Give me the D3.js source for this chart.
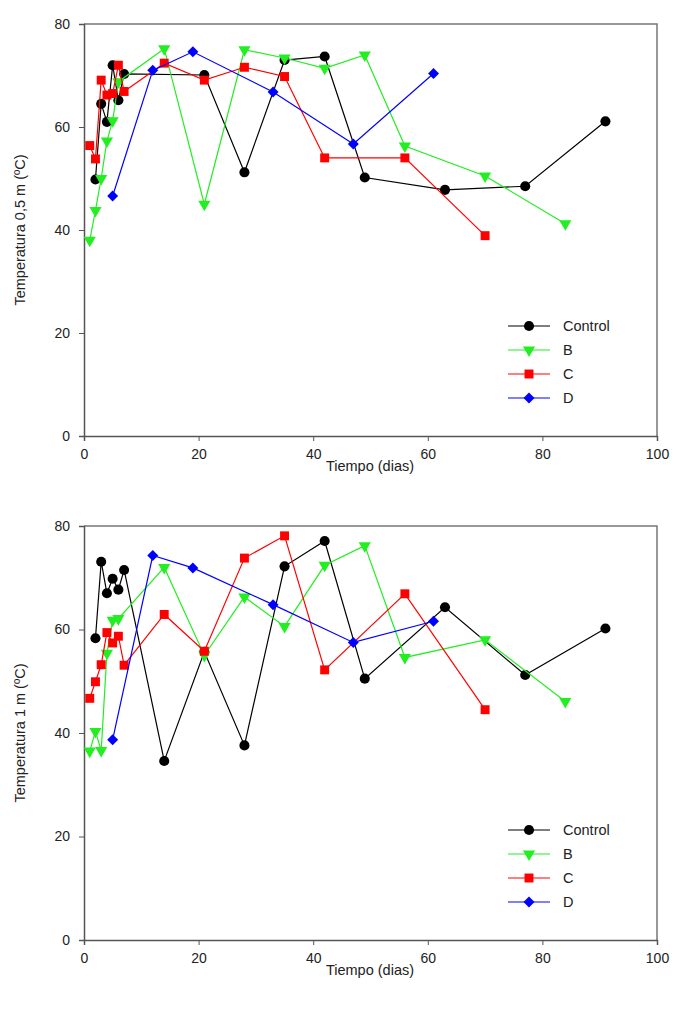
<!DOCTYPE html>
<html>
<head>
<meta charset="utf-8">
<script src="https://cdn.jsdelivr.net/npm/d3@7/dist/d3.min.js"></script>
<style>
  html, body { margin: 0; padding: 0; background: #fff; }
  svg text { font-family: "Liberation Sans", Arial, sans-serif; fill: #222; }
</style>
</head>
<body>
<svg id="chart" width="680" height="1019"></svg>
<script>
// ---- Data: temperature at 0.5 m ----
const top_control_days = [2, 3, 4, 5, 6, 7, 21, 28, 35, 42, 49, 63, 77, 91];
const top_control_vals = [49.8, 64.5, 61, 72, 65.2, 70.3, 70.1, 51.2, 73, 73.7, 50.2, 47.8, 48.5, 61.1];
const top_b_days = [1, 2, 3, 4, 5, 6, 14, 21, 28, 35, 42, 49, 56, 70, 84];
const top_b_vals = [38, 43.8, 50, 57.3, 61.2, 68.8, 75.2, 45, 75, 73.4, 71.4, 74, 56.3, 50.5, 41.2];
const top_c_days = [1, 2, 3, 4, 5, 6, 7, 14, 21, 28, 35, 42, 56, 70];
const top_c_vals = [56.4, 53.8, 69.1, 66.2, 66.5, 72, 66.9, 72.4, 69.1, 71.6, 69.8, 54, 54, 38.9];
const top_d_days = [5, 12, 19, 33, 47, 61];
const top_d_vals = [46.6, 71, 74.6, 66.8, 56.7, 70.4];

// ---- Data: temperature at 1 m ----
const bot_control_days = [2, 3, 4, 5, 6, 7, 14, 21, 28, 35, 42, 49, 63, 77, 91];
const bot_control_vals = [58.3, 73.1, 67, 69.8, 67.7, 71.5, 34.6, 55.7, 37.6, 72.2, 77.1, 50.5, 64.3, 51.2, 60.2];
const bot_b_days = [1, 2, 3, 4, 5, 6, 14, 21, 28, 35, 42, 49, 56, 70, 84];
const bot_b_vals = [36.5, 40.3, 36.6, 55.4, 61.8, 62.1, 72, 55, 66.3, 60.6, 72.4, 76.2, 54.6, 58, 46.1];
const bot_c_days = [1, 2, 3, 4, 5, 6, 7, 14, 21, 28, 35, 42, 56, 70];
const bot_c_vals = [46.7, 49.9, 53.2, 59.4, 57.4, 58.7, 53.1, 62.9, 55.8, 73.8, 78.1, 52.2, 66.9, 44.5];
const bot_d_days = [5, 12, 19, 33, 47, 61];
const bot_d_vals = [38.7, 74.3, 71.9, 64.8, 57.5, 61.6];

const seriesNames = ["Control", "B", "C", "D"];
const seriesColors = ["#000000", "#22ee22", "#ff0000", "#0000ff"];

const xTicks = [0, 20, 40, 60, 80, 100];
const yTicks = [0, 20, 40, 60, 80];
const xTitle = "Tiempo (dias)";
const yTitles = ["Temperatura 0,5 m (ºC)", "Temperatura 1 m (ºC)"];

const svg = d3.select("#chart");

function zip(days, vals) { return days.map((d, i) => ({ d, v: vals[i] })); }

const panels = [
  { top: 24, bottom: 436, title: yTitles[0], legendY: 326,
    series: [zip(top_control_days, top_control_vals), zip(top_b_days, top_b_vals),
             zip(top_c_days, top_c_vals), zip(top_d_days, top_d_vals)] },
  { top: 526, bottom: 940, title: yTitles[1], legendY: 830,
    series: [zip(bot_control_days, bot_control_vals), zip(bot_b_days, bot_b_vals),
             zip(bot_c_days, bot_c_vals), zip(bot_d_days, bot_d_vals)] }
];

const left = 84, right = 657;

// marker shape and orientation per series: circle, down-triangle, square, diamond
const markerShapes = [
  { type: d3.symbolCircle, size: 80, rot: 0 },
  { type: d3.symbolTriangle, size: 64, rot: 180 },
  { type: d3.symbolSquare, size: 80, rot: 0 },
  { type: d3.symbolSquare, size: 60, rot: 45 }
];

function marker(sel, i, cx, cy) {
  const m = markerShapes[i];
  sel.attr("d", d3.symbol().type(m.type).size(m.size)())
    .attr("transform", `translate(${cx},${cy}) rotate(${m.rot})`)
    .attr("fill", seriesColors[i]);
}

panels.forEach(p => {
  const x = d3.scaleLinear().domain([0, 100]).range([left, right]);
  const y = d3.scaleLinear().domain([0, 80]).range([p.bottom, p.top]);
  const g = svg.append("g");

  // frame (top and right sides)
  g.append("path")
    .attr("d", `M${left},${p.top}H${right}V${p.bottom}`)
    .attr("fill", "none").attr("stroke", "#777").attr("stroke-width", 1.5);

  const xAxis = g.append("g").attr("transform", `translate(0,${p.bottom})`)
    .call(d3.axisBottom(x).tickValues(xTicks).tickSize(5).tickPadding(8).tickFormat(d3.format("d")));
  const yAxis = g.append("g").attr("transform", `translate(${left},0)`)
    .call(d3.axisLeft(y).tickValues(yTicks).tickSize(5).tickPadding(9).tickFormat(d3.format("d")));
  [xAxis, yAxis].forEach(a => {
    a.select(".domain").attr("stroke", "#555").attr("stroke-width", 1.5);
    a.selectAll(".tick line").attr("stroke", "#555");
    a.selectAll(".tick text").attr("font-size", 14).attr("fill", "#333")
      .attr("font-family", "Liberation Sans, Arial, sans-serif");
  });

  g.append("text").attr("x", 370).attr("y", p.bottom + 35)
    .attr("text-anchor", "middle").attr("font-size", 14.5).text(xTitle);
  g.append("text")
    .attr("transform", `translate(25,${(p.top + p.bottom) / 2}) rotate(-90)`)
    .attr("text-anchor", "middle").attr("font-size", 14.5).text(p.title);

  const line = d3.line().x(d => x(d.d)).y(d => y(d.v));

  p.series.forEach((s, i) => {
    const sg = g.append("g");
    sg.append("path").datum(s).attr("d", line)
      .attr("fill", "none").attr("stroke", seriesColors[i]).attr("stroke-width", 1.2);
    sg.selectAll("path.pt").data(s).enter().append("path").attr("class", "pt")
      .each(function(d) { marker(d3.select(this), i, x(d.d), y(d.v)); });
  });

  // legend
  seriesNames.forEach((name, i) => {
    const ly = p.legendY + i * 24;
    const lg = g.append("g");
    lg.append("line").attr("x1", 508).attr("x2", 550).attr("y1", ly).attr("y2", ly)
      .attr("stroke", seriesColors[i]).attr("stroke-width", 1.2);
    marker(lg.append("path"), i, 529, ly);
    lg.append("text").attr("x", 563).attr("y", ly + 5).attr("font-size", 14.5).text(name);
  });
});
</script>
</body>
</html>
